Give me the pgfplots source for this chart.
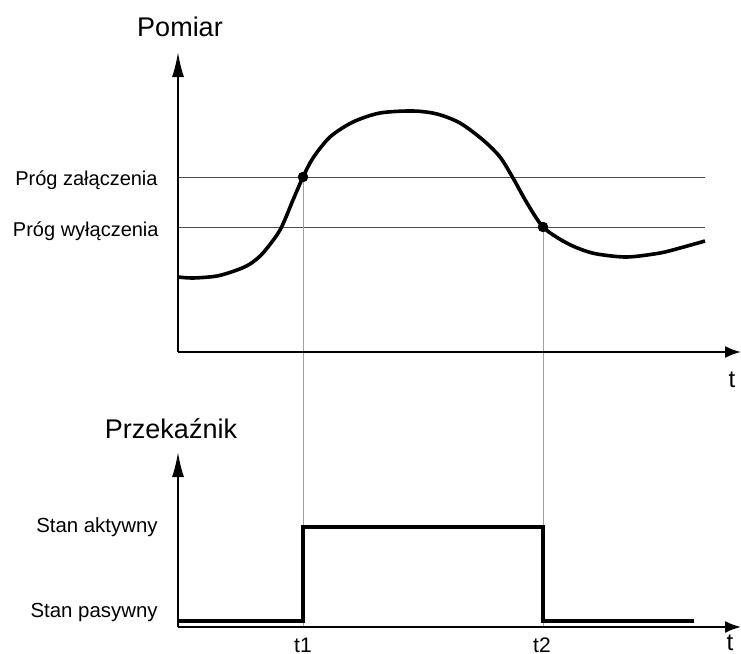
\documentclass[border=0pt]{standalone}
\usepackage{pgfplots}
\pgfplotsset{compat=1.18}
\usepackage{fontspec}
\setmainfont{Liberation Sans}
\usetikzlibrary{arrows.meta}
\begin{document}
\begin{tikzpicture}
\begin{axis}[
  width=370.5pt, height=327pt, scale only axis,
  xmin=0, xmax=741, ymin=0, ymax=654, y dir=reverse,
  hide axis, clip=false,
]
% frame for bounding box
\addplot[draw=none] coordinates {(0,0) (741,654)};
% threshold lines
\addplot[gray!60!black, line width=0.5pt] coordinates {(178,177) (705,177)};
\addplot[gray!60!black, line width=0.5pt] coordinates {(178,227) (705,227)};
% vertical guide lines
\addplot[gray!75, line width=0.5pt] coordinates {(303,177) (303,627)};
\addplot[gray!75, line width=0.5pt] coordinates {(543,227) (543,627)};
% axes
\addplot[black, line width=1pt, -{Latex[length=12.5pt,width=6pt]}] coordinates {(178,352) (178,52)};
\addplot[black, line width=1pt, -{Latex[length=8pt,width=6pt]}] coordinates {(177.5,352) (741,352)};
\addplot[black, line width=1pt, -{Latex[length=12.5pt,width=6pt]}] coordinates {(178,627) (178,452)};
\addplot[black, line width=1pt, -{Latex[length=8pt,width=6pt]}] coordinates {(177.5,627) (741,627)};
% measurement curve
\addplot[black, line width=1.8pt, smooth, tension=0.5] coordinates {
(178,277) (193,278) (217,276) (237,270) (250,264) (263,253) (280,230) (293,200)
(303,177) (313,158) (330,137) (353,122) (380,113) (413,111) (437,114) (460,123)
(483,140) (500,157) (513,178) (527,203) (543,227) (563,241) (580,249) (597,254)
(627,257) (660,253) (680,248) (705,241)};
% crossing points
\addplot[only marks, mark=*, mark size=2.4pt, black] coordinates {(303,177) (543,227)};
% relay state
\addplot[black, line width=1.6pt, line join=miter] coordinates {
(178,621) (303,621) (303,527) (543,527) (543,621) (694,621)};
% labels
\node[inner sep=0pt, anchor=base, font=\fontsize{13.5}{16}\selectfont] at (axis cs:180,36) {Pomiar};
\node[inner sep=0pt, anchor=base, font=\fontsize{13.5}{16}\selectfont] at (axis cs:171,438) {Przekaźnik};
\node[inner sep=0pt, anchor=base east, font=\fontsize{10}{12}\selectfont] at (axis cs:158,185) {Próg załączenia};
\node[inner sep=0pt, anchor=base east, font=\fontsize{10}{12}\selectfont] at (axis cs:159,236) {Próg wyłączenia};
\node[inner sep=0pt, anchor=base east, font=\fontsize{10.2}{12}\selectfont] at (axis cs:158,532) {Stan aktywny};
\node[inner sep=0pt, anchor=base east, font=\fontsize{10.2}{12}\selectfont] at (axis cs:158,617) {Stan pasywny};
\node[inner sep=0pt, anchor=base, font=\fontsize{10.5}{12}\selectfont] at (axis cs:303,652) {t1};
\node[inner sep=0pt, anchor=base, font=\fontsize{10.5}{12}\selectfont] at (axis cs:542,652) {t2};
\node[inner sep=0pt, anchor=base, font=\fontsize{12}{14}\selectfont] at (axis cs:732,387) {t};
\node[inner sep=0pt, anchor=base, font=\fontsize{12}{14}\selectfont] at (axis cs:730,650) {t};
\end{axis}
\pgfresetboundingbox
\path (current axis.south west) rectangle (current axis.north east);
\end{tikzpicture}
\end{document}
